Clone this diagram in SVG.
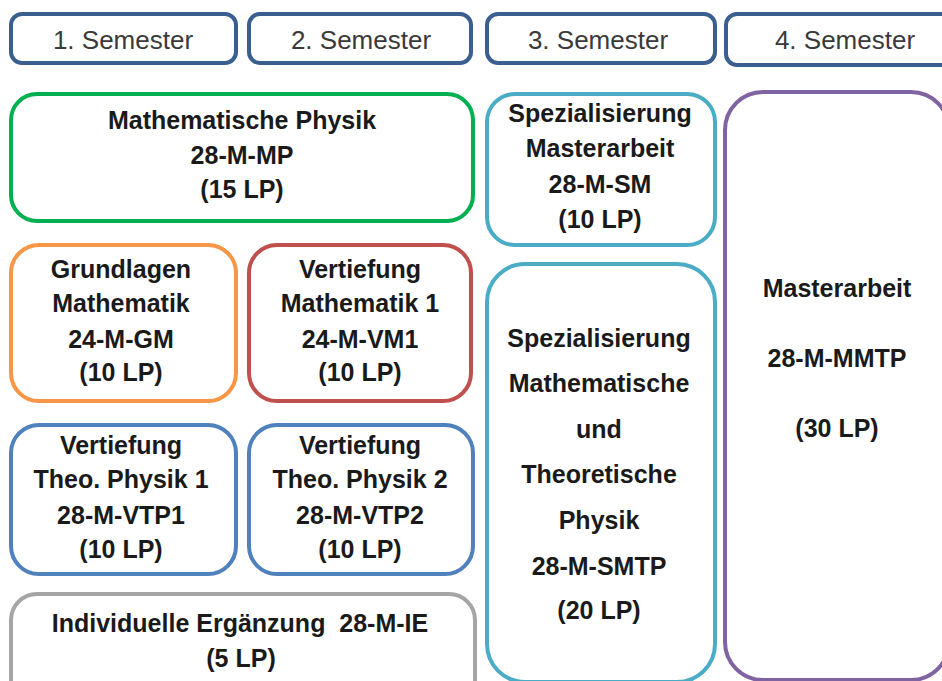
<svg xmlns="http://www.w3.org/2000/svg" width="942" height="681" viewBox="0 0 942 681">
<style>
.box{fill:#ffffff;stroke-width:4}
.sem{stroke:#3a5f8f}
.t{font-family:"Liberation Sans",Arial,sans-serif;font-weight:bold;font-size:25px;fill:#1a1a1a;text-anchor:middle}
.s{font-family:"Liberation Sans",Arial,sans-serif;font-size:26px;fill:#3a3a3a;text-anchor:middle}
</style>
<rect x="0" y="0" width="942" height="681" fill="#ffffff"/>
<g id="sem1"><rect class="box sem" x="11" y="14" width="225" height="49" rx="11"/><text class="s" x="123" y="49">1. Semester</text></g>
<g id="sem2"><rect class="box sem" x="249" y="14" width="222" height="49" rx="11"/><text class="s" x="361" y="49">2. Semester</text></g>
<g id="sem3"><rect class="box sem" x="487" y="14" width="228" height="49" rx="11"/><text class="s" x="598" y="49">3. Semester</text></g>
<g id="sem4"><rect class="box sem" x="726" y="14" width="240" height="51" rx="11"/><text class="s" x="845" y="49">4. Semester</text></g>
<g id="mp"><rect class="box" stroke="#00b050" x="11" y="94" width="462" height="127" rx="26"/>
<text class="t" x="242" y="129">Mathematische Physik</text><text class="t" x="242" y="164">28-M-MP</text><text class="t" x="242" y="198">(15 LP)</text></g>
<g id="gm"><rect class="box" stroke="#f79646" x="11" y="245" width="225" height="156" rx="28"/>
<text class="t" x="121" y="278">Grundlagen</text><text class="t" x="121" y="312">Mathematik</text><text class="t" x="121" y="348">24-M-GM</text><text class="t" x="121" y="381">(10 LP)</text></g>
<g id="vm1"><rect class="box" stroke="#c0504d" x="249" y="245" width="222" height="156" rx="28"/>
<text class="t" x="360" y="278">Vertiefung</text><text class="t" x="360" y="312">Mathematik 1</text><text class="t" x="360" y="348">24-M-VM1</text><text class="t" x="360" y="381">(10 LP)</text></g>
<g id="vtp1"><rect class="box" stroke="#4f81bd" x="11" y="425" width="225" height="149" rx="28"/>
<text class="t" x="121" y="454">Vertiefung</text><text class="t" x="121" y="488">Theo. Physik 1</text><text class="t" x="121" y="524">28-M-VTP1</text><text class="t" x="121" y="558">(10 LP)</text></g>
<g id="vtp2"><rect class="box" stroke="#4f81bd" x="249" y="425" width="224" height="149" rx="28"/>
<text class="t" x="360" y="454">Vertiefung</text><text class="t" x="360" y="488">Theo. Physik 2</text><text class="t" x="360" y="524">28-M-VTP2</text><text class="t" x="360" y="558">(10 LP)</text></g>
<g id="ie"><rect class="box" stroke="#a5a5a5" x="11" y="594" width="464" height="120" rx="26"/>
<text class="t" x="240" y="632" style="white-space:pre">Individuelle Ergänzung  28-M-IE</text><text class="t" x="241" y="667">(5 LP)</text></g>
<g id="sm"><rect class="box" stroke="#4bacc6" x="487" y="94" width="228" height="151" rx="28"/>
<text class="t" x="600" y="122">Spezialisierung</text><text class="t" x="600" y="157">Masterarbeit</text><text class="t" x="600" y="193">28-M-SM</text><text class="t" x="600" y="228">(10 LP)</text></g>
<g id="smtp"><rect class="box" stroke="#4bacc6" x="487" y="264" width="228" height="418" rx="38"/>
<text class="t" x="599" y="347">Spezialisierung</text><text class="t" x="599" y="392">Mathematische</text><text class="t" x="599" y="438">und</text><text class="t" x="599" y="483">Theoretische</text><text class="t" x="599" y="529">Physik</text><text class="t" x="599" y="575">28-M-SMTP</text><text class="t" x="599" y="619">(20 LP)</text></g>
<g id="mmtp"><rect class="box" stroke="#8064a2" x="725" y="92" width="224" height="588" rx="38"/>
<text class="t" x="837" y="297">Masterarbeit</text><text class="t" x="837" y="367">28-M-MMTP</text><text class="t" x="837" y="437">(30 LP)</text></g>
<g id="connectors"></g>
</svg>
